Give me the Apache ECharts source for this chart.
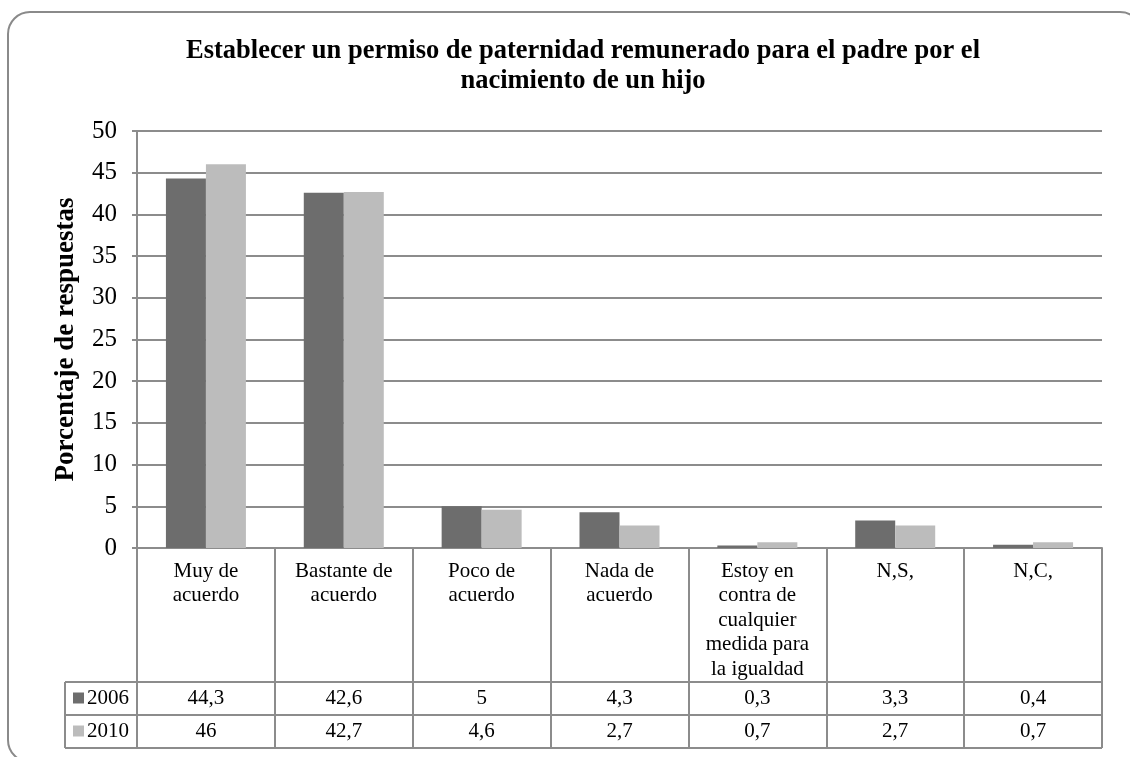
<!DOCTYPE html>
<html>
<head>
<meta charset="utf-8">
<script src="https://cdn.jsdelivr.net/npm/echarts@6/dist/echarts.min.js"></script>
<style>
  html, body { margin: 0; padding: 0; background: #fff; }
  #chart { width: 1130px; height: 757px; }
</style>
</head>
<body>
<div id="chart"></div>
<script>
const categories = [
  'Muy de\nacuerdo',
  'Bastante de\nacuerdo',
  'Poco de\nacuerdo',
  'Nada de\nacuerdo',
  'Estoy en\ncontra de\ncualquier\nmedida para\nla igualdad',
  'N,S,',
  'N,C,'
]
const values2006 = [44.3, 42.6, 5, 4.3, 0.3, 3.3, 0.4]
const values2010 = [46, 42.7, 4.6, 2.7, 0.7, 2.7, 0.7]
const seriesNames = ['2006', '2010']

const font = '"Liberation Serif", "Times New Roman", serif'
const lineGrey = '#8c8c8c'
const fmt = v => String(v).replace('.', ',')

const chart = echarts.init(document.getElementById('chart'))

// fila de la tabla de datos bajo el eje
function tableRow(values, offset) {
  return {
    type: 'category',
    data: categories,
    position: 'bottom',
    offset: offset,
    axisLine: { show: false },
    axisTick: { show: false },
    axisLabel: {
      interval: 0,
      margin: 5,
      color: '#000',
      fontFamily: font,
      fontSize: 21,
      lineHeight: 22,
      formatter: (v, i) => fmt(values[i])
    }
  }
}

chart.setOption({
  backgroundColor: '#fff',
  animation: false,
  title: {
    text: 'Establecer un permiso de paternidad remunerado para el padre por el\nnacimiento de un hijo',
    left: 578,
    top: 31,
    textAlign: 'center',
    textStyle: {
      fontFamily: font,
      fontSize: 26.5,
      fontWeight: 'bold',
      color: '#000',
      lineHeight: 30
    }
  },
  legend: {
    orient: 'vertical',
    left: 73,
    top: 687,
    padding: 0,
    itemWidth: 11,
    itemHeight: 11,
    itemGap: 11,
    itemStyle: { borderWidth: 0 },
    icon: 'rect',
    data: seriesNames,
    textStyle: { fontFamily: font, fontSize: 21, lineHeight: 22, color: '#000', padding: [0, 0, 0, -2] },
    selectedMode: false
  },
  grid: { left: 137, right: 28, top: 131, bottom: 209, containLabel: false },
  xAxis: [
    {
      type: 'category',
      data: categories,
      axisLine: { lineStyle: { color: lineGrey, width: 2 } },
      axisTick: { show: true, interval: 0, length: 200, lineStyle: { color: lineGrey, width: 2 } },
      axisLabel: {
        interval: 0,
        margin: 11,
        color: '#000',
        fontFamily: font,
        fontSize: 21,
        lineHeight: 24.5,
        verticalAlign: 'top'
      }
    },
    tableRow(values2006, 134),
    tableRow(values2010, 167)
  ],
  yAxis: {
    type: 'value',
    min: 0,
    max: 50,
    interval: 5,
    name: 'Porcentaje de respuestas',
    nameLocation: 'middle',
    nameGap: 57,
    nameTextStyle: { fontFamily: font, fontSize: 27, fontWeight: 'bold', color: '#000' },
    axisLine: { show: true, lineStyle: { color: lineGrey, width: 2 } },
    axisTick: { show: true, length: 5, lineStyle: { color: lineGrey, width: 2 } },
    axisLabel: { color: '#000', fontFamily: font, fontSize: 25, margin: 20 },
    splitLine: { lineStyle: { color: lineGrey, width: 2 } }
  },
  series: [
    {
      name: seriesNames[0],
      type: 'bar',
      data: values2006,
      barWidth: 40,
      barGap: '0%',
      itemStyle: { color: '#6d6d6d' }
    },
    {
      name: seriesNames[1],
      type: 'bar',
      data: values2010,
      barWidth: 40,
      barGap: '0%',
      itemStyle: { color: '#bcbcbc' }
    }
  ]
})

// marco redondeado y líneas de la tabla
const gridRect = chart.getModel().getComponent('grid', 0).coordinateSystem.getRect()
const x0 = 65
const x1 = gridRect.x
const x2 = gridRect.x + gridRect.width
const yAxisLine = gridRect.y + gridRect.height
const rows = [yAxisLine + 134, yAxisLine + 167, yAxisLine + 200]
const lineStyle = { stroke: lineGrey, lineWidth: 2 }

const graphics = [
  {
    type: 'rect',
    shape: { x: 8, y: 12, width: 1134, height: 750, r: 22 },
    style: { fill: null, stroke: '#8a8a8a', lineWidth: 2 },
    z: -1
  },
  {
    type: 'line',
    shape: { x1: x0, y1: rows[0], x2: x0, y2: rows[2] },
    style: lineStyle
  }
]
rows.forEach(y => {
  graphics.push({ type: 'line', shape: { x1: x0, y1: y, x2: x2, y2: y }, style: lineStyle })
})
graphics.push({ type: 'line', shape: { x1: x1, y1: yAxisLine, x2: x1, y2: rows[2] }, style: lineStyle })

chart.setOption({ graphic: graphics })
</script>
</body>
</html>
